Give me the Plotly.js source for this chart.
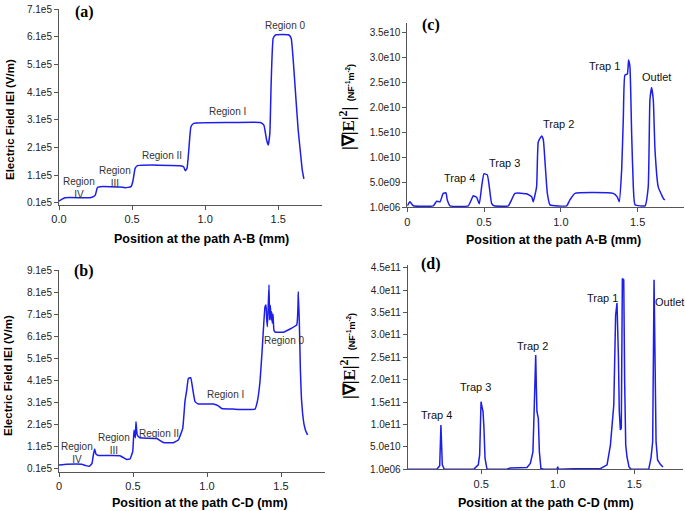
<!DOCTYPE html>
<html>
<head>
<meta charset="utf-8">
<script src="https://cdn.plot.ly/plotly-3.0.1.min.js"></script>
<style>html,body{margin:0;padding:0;background:#fff;}#chart{width:685px;height:511px;}</style>
</head>
<body>
<div id="chart"></div>
<script>
// ---------- data ----------
// (a) Electric field along path A-B
const xA = [0,0.018,0.041,0.213,0.236,0.249,0.263,0.281,0.418,0.453,0.492,0.505,0.521,0.537,0.830,0.853,0.864,0.876,0.890,0.903,0.922,1.196,1.379,1.402,1.421,1.432,1.443,1.452,1.466,1.482,1.573,1.589,1.603,1.619,1.637,1.653,1.665,1.676];
const yA = [0.16e5,0.22e5,0.28e5,0.28e5,0.32e5,0.38e5,0.65e5,0.68e5,0.67e5,0.64e5,0.68e5,0.86e5,1.34e5,1.44e5,1.44e5,1.40e5,1.26e5,1.34e5,2.13e5,2.85e5,2.97e5,3.00e5,3.00e5,2.91e5,2.37e5,2.19e5,2.61e5,4.42e5,6.05e5,6.17e5,6.17e5,6.05e5,5.26e5,4.06e5,2.73e5,1.89e5,1.28e5,0.96e5];

// (b) Electric field along path C-D
const xB = [0,0.052,0.153,0.182,0.205,0.223,0.232,0.241,0.250,0.266,0.412,0.435,0.457,0.480,0.498,0.507,0.516,0.520,0.529,0.547,0.660,0.705,0.773,0.806,0.836,0.851,0.863,0.874,0.890,0.903,0.919,0.941,1.043,1.077,1.099,1.178,1.324,1.340,1.358,1.372,1.392,1.399,1.403,1.408,1.413,1.419,1.423,1.428,1.433,1.437,1.441,1.446,1.452,1.462,1.475,1.516,1.606,1.617,1.624,1.631,1.638,1.646,1.656,1.668,1.680];
const yB = [0.27e5,0.30e5,0.30e5,0.24e5,0.21e5,0.34e5,0.72e5,0.99e5,0.76e5,0.70e5,0.69e5,0.60e5,0.52e5,0.54e5,0.87e5,1.85e5,1.50e5,2.23e5,1.62e5,1.50e5,1.47e5,1.29e5,1.28e5,1.40e5,1.93e5,3.14e5,3.66e5,4.19e5,4.22e5,3.74e5,3.14e5,3.03e5,3.03e5,2.95e5,2.83e5,2.80e5,2.80e5,3.14e5,4.04e5,5.40e5,7.44e5,7.52e5,6.90e5,6.53e5,7.30e5,8.42e5,6.84e5,7.50e5,6.84e5,7.21e5,6.70e5,7.10e5,6.38e5,6.28e5,6.28e5,6.28e5,6.61e5,8.12e5,6.69e5,4.57e5,3.30e5,2.60e5,2.10e5,1.80e5,1.63e5];

// (c) |grad|E|^2| along path A-B
const xC = [0,0.017,0.039,0.169,0.191,0.213,0.234,0.252,0.260,0.278,0.397,0.430,0.451,0.469,0.484,0.499,0.521,0.534,0.549,0.564,0.658,0.679,0.701,0.777,0.810,0.820,0.842,0.853,0.875,0.886,0.896,0.912,0.929,1.038,1.059,1.092,1.341,1.367,1.380,1.396,1.407,1.417,1.433,1.441,1.450,1.461,1.472,1.483,1.548,1.569,1.580,1.591,1.602,1.613,1.634,1.656,1.671,1.678];
const yC = [0.03e10,0.11e10,0.03e10,0.03e10,0.12e10,0.11e10,0.28e10,0.29e10,0.15e10,0.03e10,0.03e10,0.23e10,0.20e10,0.07e10,0.41e10,0.67e10,0.65e10,0.41e10,0.08e10,0.03e10,0.03e10,0.15e10,0.28e10,0.27e10,0.21e10,0.11e10,0.41e10,1.31e10,1.43e10,1.35e10,0.95e10,0.28e10,0.05e10,0.03e10,0.15e10,0.28e10,0.28e10,0.21e10,0.11e10,0.75e10,1.81e10,2.65e10,2.67e10,2.95e10,2.81e10,1.48e10,0.41e10,0.05e10,0.03e10,0.41e10,2.15e10,2.40e10,2.15e10,1.15e10,0.41e10,0.25e10,0.16e10,0.15e10];

// (d) |grad|E|^2| along path C-D
const xD = [0.02,0.211,0.229,0.237,0.246,0.259,0.451,0.481,0.490,0.499,0.505,0.512,0.518,0.525,0.538,0.668,0.690,0.755,0.799,0.821,0.838,0.847,0.856,0.860,0.864,0.873,0.880,0.890,0.908,0.995,1.000,1.004,1.104,1.278,1.322,1.344,1.366,1.378,1.387,1.396,1.402,1.409,1.415,1.422,1.431,1.437,1.444,1.452,1.465,1.478,1.594,1.609,1.620,1.629,1.635,1.642,1.652,1.670,1.687];
const yD = [1e6,1e6,0.08e11,0.99e11,0.10e11,1e6,1e6,0.10e11,0.32e11,1.51e11,1.40e11,1.29e11,0.92e11,0.25e11,1e6,1e6,0.03e11,0.03e11,0.04e11,0.13e11,0.39e11,1.44e11,2.55e11,1.88e11,1.29e11,1.14e11,0.39e11,0.02e11,1e6,1e6,0.06e11,1e6,0.015e11,0.015e11,0.10e11,0.54e11,1.44e11,3.44e11,3.71e11,2.55e11,1.29e11,0.88e11,0.92e11,4.26e11,4.23e11,1.96e11,0.54e11,0.28e11,0.06e11,1e6,1e6,0.25e11,0.62e11,4.23e11,2.55e11,0.62e11,0.21e11,0.11e11,0.05e11];

// tick labels
const tickValsA = [0.1e5,1.1e5,2.1e5,3.1e5,4.1e5,5.1e5,6.1e5,7.1e5];
const tickTextA = ['0.1e5','1.1e5','2.1e5','3.1e5','4.1e5','5.1e5','6.1e5','7.1e5'];
const tickValsB = [0.1e5,1.1e5,2.1e5,3.1e5,4.1e5,5.1e5,6.1e5,7.1e5,8.1e5,9.1e5];
const tickTextB = ['0.1e5','1.1e5','2.1e5','3.1e5','4.1e5','5.1e5','6.1e5','7.1e5','8.1e5','9.1e5'];
const tickValsC = [1e6,5e9,1e10,1.5e10,2e10,2.5e10,3e10,3.5e10];
const tickTextC = ['1.0e06','5.0e09','1.0e10','1.5e10','2.0e10','2.5e10','3.0e10','3.5e10'];
const tickValsD = [1e6,5e10,1e11,1.5e11,2e11,2.5e11,3e11,3.5e11,4e11,4.5e11];
const tickTextD = ['1.0e06','5.0e10','1.0e11','1.5e11','2.0e11','2.5e11','3.0e11','3.5e11','4.0e11','4.5e11'];
const xTickValsA = [0,0.5,1.0,1.5];
const xTickTextA = ['0.0','0.5','1.0','1.5'];
const xTickTextOther = ['0','0.5','1.0','1.5'];

const regionLabelsA = [
  {t:'Region 0', x:1.55, y:6.53e5},
  {t:'Region I', x:1.15, y:3.39e5},
  {t:'Region II', x:0.704, y:1.79e5},
  {t:'Region<br>III', x:0.384, y:1.02e5},
  {t:'Region<br>IV', x:0.139, y:0.63e5}
];
const regionLabelsB = [
  {t:'Region 0', x:1.52, y:5.90e5},
  {t:'Region I', x:1.128, y:3.44e5},
  {t:'Region II', x:0.678, y:1.70e5},
  {t:'Region<br>III', x:0.372, y:1.22e5},
  {t:'Region<br>IV', x:0.124, y:0.81e5}
];
const trapLabelsC = [
  {t:'Trap 1', x:1.287, y:2.83e10},
  {t:'Outlet', x:1.624, y:2.61e10},
  {t:'Trap 2', x:0.983, y:1.67e10},
  {t:'Trap 3', x:0.632, y:0.88e10},
  {t:'Trap 4', x:0.339, y:0.59e10}
];
const trapLabelsD = [
  {t:'Trap 4', x:0.210, y:1.21e11},
  {t:'Trap 3', x:0.461, y:1.83e11},
  {t:'Trap 2', x:0.838, y:2.76e11},
  {t:'Trap 1', x:1.289, y:3.83e11},
  {t:'Outlet', x:1.729, y:3.73e11}
];

// ---------- layout ----------
const W = 685, H = 511;
const px = v => v / W;
const py = v => 1 - v / H;
const lineColor = 'rgb(30,30,235)';
const axisColor = '#555';
const sans = 'Liberation Sans, Arial, sans-serif';
const serif = 'Liberation Serif, Times New Roman, serif';

function axisBase(extra) {
  return Object.assign({
    showline: true, linecolor: axisColor, linewidth: 1,
    ticks: 'outside', ticklen: 4, tickcolor: axisColor, tickwidth: 1,
    showgrid: false, zeroline: false, fixedrange: true,
    tickfont: {family: sans, size: 10, color: '#222'},
    mirror: false
  }, extra);
}

const traces = [
  {x: xA, y: yA, xaxis: 'x', yaxis: 'y', type: 'scatter', mode: 'lines',
   line: {color: lineColor, width: 1.5, shape: 'spline', smoothing: 0.4}},
  {x: xC, y: yC, xaxis: 'x2', yaxis: 'y2', type: 'scatter', mode: 'lines',
   line: {color: lineColor, width: 1.5, shape: 'spline', smoothing: 0.4}},
  {x: xB, y: yB, xaxis: 'x3', yaxis: 'y3', type: 'scatter', mode: 'lines',
   line: {color: lineColor, width: 1.5, shape: 'spline', smoothing: 0.3}},
  {x: xD, y: yD, xaxis: 'x4', yaxis: 'y4', type: 'scatter', mode: 'lines',
   line: {color: lineColor, width: 1.5}}
];

const annotations = [];
function addText(t, x, y, opts) {
  annotations.push(Object.assign({text: t, x: px(x), y: py(y), xref: 'paper', yref: 'paper',
    showarrow: false, xanchor: 'center', yanchor: 'middle'}, opts));
}
// panel letters
addText('<b>(a)</b>', 84, 12, {font: {family: serif, size: 16, color: '#000'}});
addText('<b>(c)</b>', 431, 25, {font: {family: serif, size: 16, color: '#000'}});
addText('<b>(b)</b>', 84, 271, {font: {family: serif, size: 16, color: '#000'}});
addText('<b>(d)</b>', 431, 264, {font: {family: serif, size: 16, color: '#000'}});
// x titles
const xtFont = {family: sans, size: 12.5, color: '#000'};
addText('<b>Position at the path A-B (mm)</b>', 201, 239, {font: xtFont});
addText('<b>Position at the path A-B (mm)</b>', 553, 240, {font: xtFont});
addText('<b>Position at the path C-D (mm)</b>', 200, 503, {font: xtFont});
addText('<b>Position at the path C-D (mm)</b>', 546, 503, {font: xtFont});
// y titles
const ytFont = {family: sans, size: 11.5, color: '#000'};
addText('<b>Electric Field IEI (V/m)</b>', 10, 120, {font: ytFont, textangle: -90});
addText('<b>Electric Field IEI (V/m)</b>', 8, 376, {font: ytFont, textangle: -90});
const gradTitle = '<span style="font-family:Liberation Serif;font-size:17px"><b>|∇|E|<sup>2</sup>|</b></span>  <span style="font-size:9px"><b>(NF<sup>-1</sup>m<sup>-2</sup>)</b></span>';
addText(gradTitle, 347, 107, {font: {family: sans, size: 10, color: '#000'}, textangle: -90});
addText(gradTitle, 348, 356, {font: {family: sans, size: 10, color: '#000'}, textangle: -90});

function addDataLabels(list, xr, yr, font) {
  list.forEach(l => annotations.push({text: l.t, x: l.x, y: l.y, xref: xr, yref: yr,
    showarrow: false, xanchor: 'center', yanchor: 'middle', font: font}));
}
const regFont = {family: sans, size: 10, color: '#333'};
const trapFont = {family: sans, size: 11, color: '#111'};
addDataLabels(regionLabelsA, 'x', 'y', regFont);
addDataLabels(trapLabelsC, 'x2', 'y2', trapFont);
addDataLabels(regionLabelsB, 'x3', 'y3', regFont);
addDataLabels(trapLabelsD, 'x4', 'y4', trapFont);

const layout = {
  width: W, height: H,
  margin: {l: 0, r: 0, t: 0, b: 0},
  paper_bgcolor: '#fff', plot_bgcolor: '#fff',
  showlegend: false,
  xaxis: axisBase({domain: [px(59), px(322)], range: [0, 1.8], tickvals: xTickValsA, ticktext: xTickTextA, anchor: 'y', tickfont: {family: sans, size: 11, color: '#222'}}),
  yaxis: axisBase({domain: [py(205), py(9.3)], range: [0.016e5, 7.1e5], tickvals: tickValsA, ticktext: tickTextA, anchor: 'x'}),
  xaxis2: axisBase({domain: [px(407.3), px(683.7)], range: [0, 1.8], tickvals: xTickValsA, ticktext: xTickTextOther, anchor: 'y2', tickfont: {family: sans, size: 11, color: '#222'}}),
  yaxis2: axisBase({domain: [py(207.3), py(22.7)], range: [0, 3.7e10], tickvals: tickValsC, ticktext: tickTextC, anchor: 'x2'}),
  xaxis3: axisBase({domain: [px(59), px(325.4)], range: [0, 1.8], tickvals: xTickValsA, ticktext: xTickTextOther, anchor: 'y3', tickfont: {family: sans, size: 11, color: '#222'}}),
  yaxis3: axisBase({domain: [py(471.7), py(270)], range: [-0.036e5, 9.1e5], tickvals: tickValsB, ticktext: tickTextB, anchor: 'x3'}),
  xaxis4: axisBase({domain: [px(407.7), px(683.3)], range: [0.02, 1.82], tickvals: xTickValsA, ticktext: xTickTextOther, anchor: 'y4', tickfont: {family: sans, size: 11, color: '#222'}}),
  yaxis4: axisBase({domain: [py(469.3), py(265)], range: [0, 4.56e11], tickvals: tickValsD, ticktext: tickTextD, anchor: 'x4'}),
  annotations: annotations
};

Plotly.newPlot('chart', traces, layout, {staticPlot: true, displayModeBar: false});
</script>
</body>
</html>
